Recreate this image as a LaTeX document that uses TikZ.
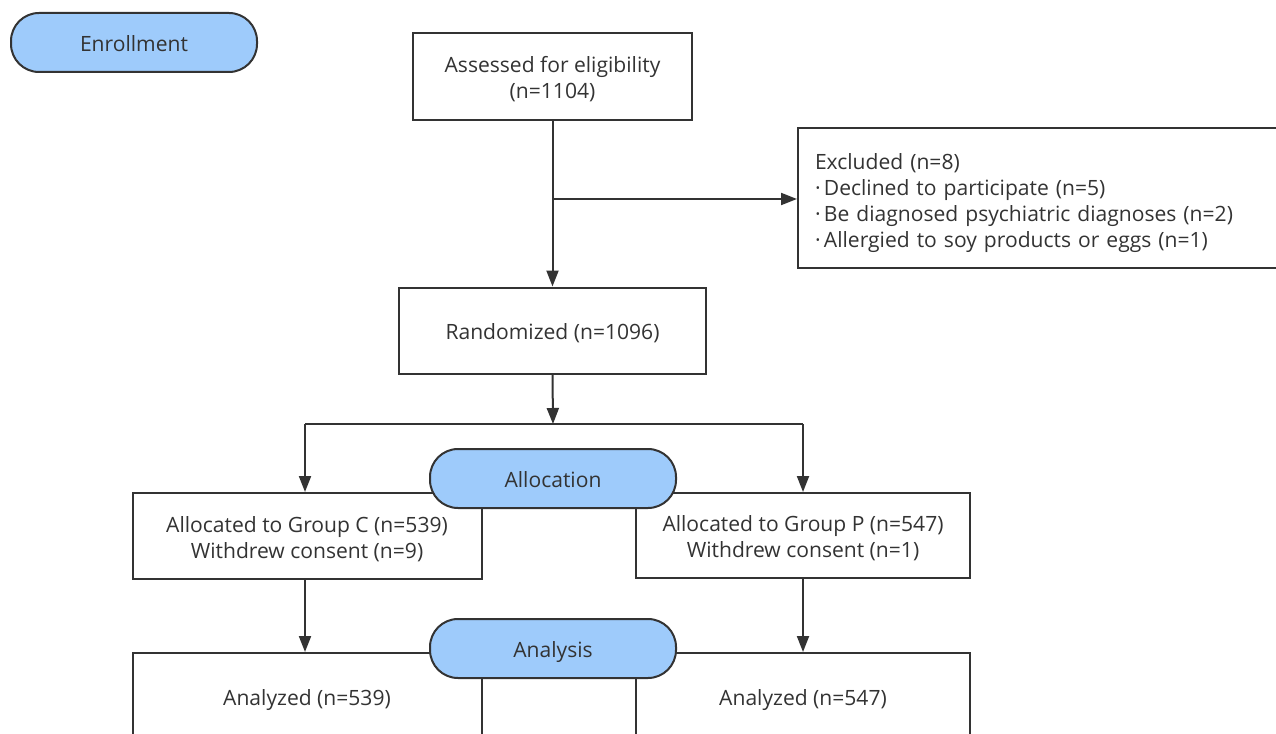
\documentclass[tikz,border=0pt]{standalone}
\usepackage{fontspec}
\setmainfont{Open Sans}
\usetikzlibrary{arrows.meta}
\definecolor{ink}{HTML}{333333}
\definecolor{stagefill}{HTML}{9ECBFB}
\newcommand\liftline[1][16.5pt]{\rule{0pt}{#1}}
\newcommand\bul{·\hspace{2.5pt}}
\tikzset{
  px/.style={x=0.75pt,y=-0.75pt},
  txt/.style={text=ink,font=\fontsize{15.8}{19.5}\selectfont},
  box/.style={draw=ink,line width=1.5pt,fill=white,align=center,inner sep=0pt,txt},
  stage/.style={draw=ink,line width=1.5pt,fill=stagefill,rounded corners=21pt,
    minimum width=184.5pt,minimum height=44.25pt,inner sep=0pt,txt,
    text height=14pt,text depth=1pt},
  conn/.style={draw=ink,line width=1.5pt},
  arr/.style={conn,-{Triangle[length=12pt,width=9pt]}},
}
\begin{document}
\begin{tikzpicture}[px]
\clip (0,0) rectangle (1276,734);
\fill[white] (0,0) rectangle (1276,734);
% boxes
\node[box,minimum width=209.25pt,minimum height=65.25pt] (assess) at (552.5,76.5) {\liftline Assessed for eligibility\\(n=1104)};
\node[box,minimum width=375pt,minimum height=105pt,anchor=west,align=left,text width=349.5pt] (excl) at (797,198)
  {\liftline[19.5pt]Excluded (n=8)\\\bul Declined to participate (n=5)\\\bul Be diagnosed psychiatric diagnoses (n=2)\\\bul Allergied to soy products or eggs (n=1)};
\node[box,minimum width=230.25pt,minimum height=64.5pt] (rand) at (552.5,330.5) {\liftline Randomized (n=1096)};
\node[box,minimum width=261.75pt,minimum height=64.5pt] (gc) at (307,536) {\liftline Allocated to Group C (n=539)\\Withdrew consent (n=9)};
\node[box,minimum width=250.5pt,minimum height=63.75pt] (gp) at (803,535.5) {\liftline Allocated to Group P (n=547)\\Withdrew consent (n=1)};
\node[box,minimum width=261.75pt,minimum height=66pt] (ac) at (307,697) {\liftline Analyzed (n=539)};
\node[box,minimum width=250.5pt,minimum height=66pt] (ap) at (803,697) {\liftline Analyzed (n=547)};
% connectors
\coordinate (split) at (553,199);
\coordinate (fork) at (553,424);
\coordinate (forkL) at (305,424);
\coordinate (forkR) at (803,424);
\draw[arr] (assess.south) -- (rand.north);
\draw[arr] (split) -- (excl.west |- split);
\draw[conn] (forkL) -- (forkR);
\draw[arr] (forkL) -- (forkL |- gc.north);
\draw[arr] (forkR) -- (forkR |- gp.north);
\draw[arr] (rand.south) -- (fork);
\draw[arr] (forkL |- gc.south) -- (forkL |- ac.north);
\draw[arr] (forkR |- gp.south) -- (forkR |- ap.north);
% stages
\node[stage] (enroll) at (134,42.5) {Enrollment};
\node[stage] (alloc) at (553,478.5) {Allocation};
\node[stage] (anal) at (553,648.5) {Analysis};
\end{tikzpicture}
\end{document}
